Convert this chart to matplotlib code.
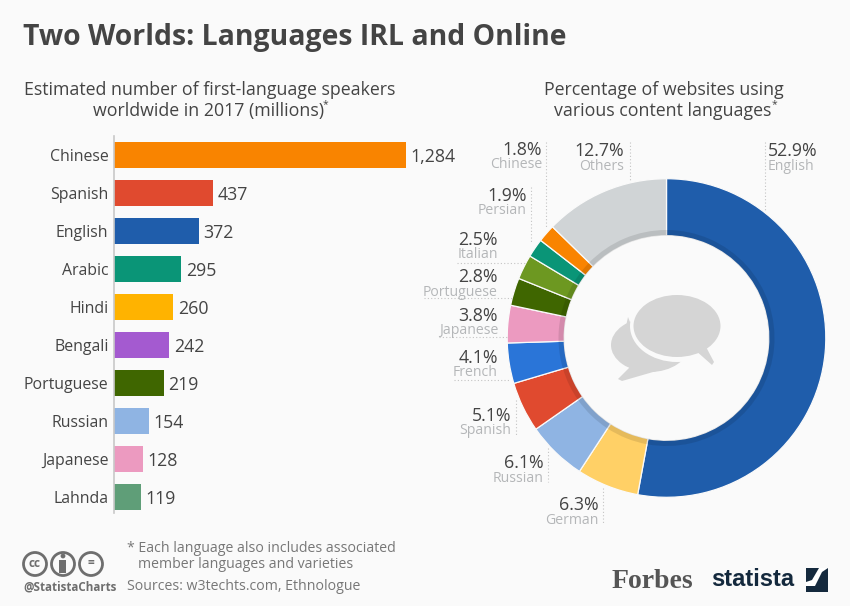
import matplotlib
matplotlib.use("Agg")
import matplotlib.pyplot as plt
from matplotlib.patches import Ellipse, Polygon, Circle, Rectangle

plt.rcParams["font.family"] = ["Open Sans", "DejaVu Sans"]

# Data
speakers = ["Chinese", "Spanish", "English", "Arabic", "Hindi", "Bengali",
            "Portuguese", "Russian", "Japanese", "Lahnda"]
speaker_millions = [1284, 437, 372, 295, 260, 242, 219, 154, 128, 119]
speaker_colors = ["#f98400", "#e04a2f", "#1f5dab", "#0a9577", "#ffb300",
                  "#a45ad0", "#3f6600", "#8fb4e3", "#ec9ac0", "#5f9e78"]

web_languages = ["English", "German", "Russian", "Spanish", "French", "Japanese",
                 "Portuguese", "Italian", "Persian", "Chinese", "Others"]
web_share = [52.9, 6.3, 6.1, 5.1, 4.1, 3.8, 2.8, 2.5, 1.9, 1.8, 12.7]
web_colors = ["#1f5dab", "#ffd066", "#8fb4e3", "#e04a2f", "#2a75d8", "#ec9ac0",
              "#3f6600", "#6d9821", "#0a9577", "#f98400", "#d0d4d6"]

BG = "#fafafa"
DARK = "#444444"
GREY = "#b4b6b8"
W, H = 850, 606

fig = plt.figure(figsize=(W / 100, H / 100), dpi=100, facecolor=BG)


def box(left, top, right, bottom):
    # axes rectangle given in picture pixels
    return [left / W, 1 - bottom / H, (right - left) / W, (bottom - top) / H]


# Overlay for texts, leader lines and icons, in picture pixels
over = fig.add_axes([0, 0, 1, 1], zorder=3)
over.set_xlim(0, W)
over.set_ylim(H, 0)
over.axis("off")

# Bars
ax = fig.add_axes(box(114, 136, 406, 516), facecolor="none")
ax.barh(speakers, speaker_millions, height=26 / 38, color=speaker_colors)
ax.set_xlim(0, speaker_millions[0])
ax.set_ylim(len(speakers) - 0.5, -0.5)
for name in ["top", "right", "bottom"]:
    ax.spines[name].set_visible(False)
ax.spines["left"].set_color("#c8c8c8")
ax.spines["left"].set_linewidth(1.2)
ax.spines["left"].set_bounds(-0.5, 9.43)
ax.xaxis.set_visible(False)
ax.tick_params(axis="y", length=0, pad=4, labelsize=11.4, labelcolor=DARK)
value_labels = ax.bar_label(ax.containers[0], fmt="{:,.0f}", padding=3.6,
                            fontsize=12.8, color=DARK, clip_on=False)
for label in value_labels:
    label.xyann = (3.4, -1.5)

# Donut
R_OUT, R_IN, R_SHADE = 159.3, 102.3, 108
CX, CY = 666.5, 338
PAD = 170
pie_ax = fig.add_axes(box(CX - PAD, CY - PAD, CX + PAD, CY + PAD))
pie_ax.axis("off")
pie_ax.pie(web_share, colors=web_colors, startangle=90, counterclock=False,
           radius=R_OUT,
           wedgeprops=dict(width=R_OUT - R_IN, edgecolor=BG, linewidth=0.9))
pie_ax.pie(web_share, colors=["black"] * len(web_share), startangle=90,
           counterclock=False, radius=R_SHADE,
           wedgeprops=dict(width=R_SHADE - R_IN, alpha=0.1, linewidth=0))
pie_ax.set_xlim(-PAD, PAD)
pie_ax.set_ylim(-PAD, PAD)

# Titles
over.text(23, 38, "Two Worlds: Languages IRL and Online", fontsize=20.4,
          fontweight="bold", color=DARK, va="center")
over.text(210, 90, "Estimated number of first-language speakers", fontsize=12.8,
          color=DARK, ha="center", va="center")
over.text(209, 111, "worldwide in 2017 (millions)", fontsize=12.8, color=DARK,
          ha="center", va="center")
over.text(323, 105, "*", fontsize=7.5, color=DARK, va="center")
over.text(664, 90, "Percentage of websites using", fontsize=12.8, color=DARK,
          ha="center", va="center")
over.text(663, 111, "various content languages", fontsize=12.8, color=DARK,
          ha="center", va="center")
over.text(772, 105, "*", fontsize=7.5, color=DARK, va="center")

# Donut labels: language -> (text anchor x, percent y, name y, alignment)
label_places = {
    "English": (768, 151, 166, "left"),
    "German": (599, 505, 520, "right"),
    "Russian": (544, 463, 478, "right"),
    "Spanish": (511, 416, 431, "right"),
    "French": (498, 358, 373, "right"),
    "Japanese": (498, 316, 331, "right"),
    "Portuguese": (498, 277, 292, "right"),
    "Italian": (498, 240, 255, "right"),
    "Persian": (527, 196, 211, "right"),
    "Chinese": (542, 150, 165, "right"),
    "Others": (624, 151, 166, "right"),
}
for lang, share in zip(web_languages, web_share):
    x, y1, y2, ha = label_places[lang]
    over.text(x, y1, f"{share}%", fontsize=12.8, color=DARK, ha=ha, va="center")
    over.text(x, y2, lang, fontsize=10.1, color=GREY, ha=ha, va="center")

# Dotted leader lines
leaders = [
    ((765, 765), (142, 210)), ((630, 630), (142, 182)), ((546, 546), (142, 228)),
    ((531, 531), (187, 243)), ((457, 527), (263, 263)), ((424, 512), (298, 298)),
    ((439, 507), (337, 337)), ((454, 510), (380, 380)), ((516, 516), (400, 435)),
    ((548, 548), (448, 482)), ((603, 603), (488, 523)),
]
for xs, ys in leaders:
    over.plot(xs, ys, color="#c4c4c4", lw=0.8, ls=(0, (1, 2)))

# Speech bubbles in the middle of the donut
BUBBLE = "#d5d5d5"
over.add_patch(Polygon([(628, 317), (622, 345), (645, 360)], color=BUBBLE, lw=0))
over.add_patch(Ellipse((650, 345), 78, 54, color=BUBBLE, lw=0))
over.add_patch(Polygon([(632, 365), (618, 379), (622, 381), (660, 370)],
                       color=BUBBLE, lw=0))
over.add_patch(Ellipse((677, 326), 94, 72, color=BG, lw=0))
over.add_patch(Ellipse((677, 326), 87, 62, color=BUBBLE, lw=0))
over.add_patch(Polygon([(695, 350), (712, 365), (714, 362), (705, 345)],
                       color=BUBBLE, lw=0))

# Footer
for cx, mark in zip([35, 63, 91], ["cc", "", "="]):
    over.add_patch(Circle((cx, 564), 11.5, fc="none", ec="#6e6e6e", lw=2))
    if mark:
        over.text(cx, 563.5, mark, fontsize=8.5, fontweight="bold", color="#6e6e6e",
                  ha="center", va="center")
over.add_patch(Circle((63, 556), 2.4, color="#6e6e6e", lw=0))
over.add_patch(Rectangle((59.5, 560), 7, 13, color="#6e6e6e", lw=0))
over.text(23, 587, "@StatistaCharts", fontsize=8.4, fontweight="bold",
          color="#6e6e6e", va="center")
over.text(127, 548, "* Each language also includes associated", fontsize=10.2,
          color="#777777", va="center")
over.text(138, 565, "member languages and varieties", fontsize=10.2,
          color="#777777", va="center")
over.text(127, 587, "Sources: w3techts.com, Ethnologue", fontsize=10.2,
          color="#777777", va="center")
over.text(612, 581, "Forbes", fontsize=20, fontweight="bold", color="#555555",
          family="Liberation Serif", va="center")
over.text(711, 580, "statista", fontsize=17, fontweight="bold", color="#14293d",
          family="Liberation Sans", va="center")
over.add_patch(Rectangle((806, 568), 22, 24, color="#14293d", lw=0))
over.add_patch(Polygon([(806, 586), (815, 586), (822, 572), (828, 568), (819, 568),
                        (812, 580), (806, 582)], color="white", lw=0))

fig.savefig("out.png", dpi=100, facecolor=BG)
